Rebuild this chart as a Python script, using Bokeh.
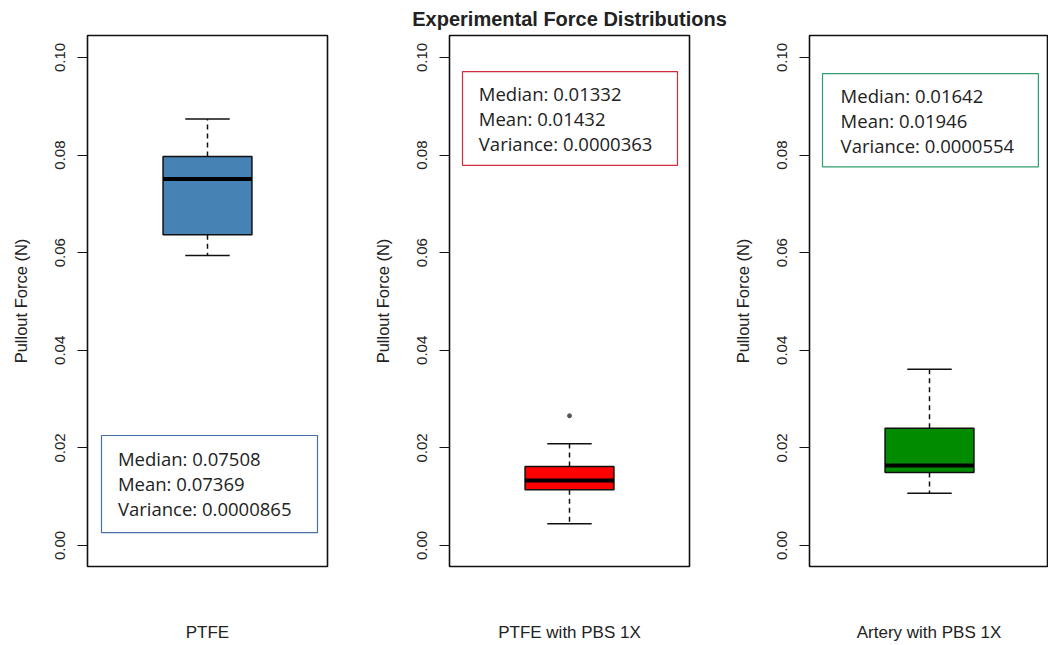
from bokeh.plotting import figure
from bokeh.layouts import row
from bokeh.models import Range1d, FixedTicker
from bokeh.core.properties import value
from bokeh.embed import file_html
from bokeh.resources import INLINE

# ---------------- data ----------------
groups = ["PTFE", "PTFE with PBS 1X", "Artery with PBS 1X"]
lower_whisker = [0.0594, 0.00445, 0.01072]
q1 = [0.0637, 0.01141, 0.01496]
median = [0.07508, 0.01332, 0.01642]
q3 = [0.0797, 0.01619, 0.02404]
upper_whisker = [0.0874, 0.02084, 0.03613]
outliers = [[], [0.02658], []]
median_txt = ["0.07508", "0.01332", "0.01642"]
mean_txt = ["0.07369", "0.01432", "0.01946"]
variance_txt = ["0.0000865", "0.0000363", "0.0000554"]
y_ticks = [0.00, 0.02, 0.04, 0.06, 0.08, 0.10]
y_tick_labels = ["0.00", "0.02", "0.04", "0.06", "0.08", "0.10"]
title_text = "Experimental Force Distributions"
y_label = "Pullout Force (N)"

# ---------------- styles / layout ----------------
box_fill = ["#4682B4", "#FF0000", "#008B00"]
note_border = ["#4A6FA5", "#D22B3C", "#2E9E6E"]
# note box (x0, x1, y0, y1), text x, first line y
note_box = [(0.523, 1.495, 0.00266, 0.02254), (0.5185, 1.486, 0.0779, 0.0971), (0.5185, 1.49, 0.0776, 0.0967)]
note_text_x = [0.597, 0.592, 0.600]
note_first_y = [0.01783, 0.0926, 0.0922]
note_step = 0.0051
BOX_W = 0.4
STAPLE_W = 0.2
X_POS = 1.0
Y_LO, Y_HI = -0.0043, 0.1045
FONT = "Liberation Sans"
NOTE_FONT = "Open Sans"

frame_w = [240, 240, 239]
border_l = [87, 120, 82]
border_r = [2, 38, 0]


def make_panel(i):
    x_end = 0.46 + 1.08 * frame_w[i] / 240.0
    p = figure(frame_width=frame_w[i], frame_height=531,
               min_border_left=border_l[i], min_border_right=border_r[i],
               min_border_top=35, min_border_bottom=79,
               x_range=Range1d(0.46, x_end), y_range=Range1d(Y_LO, Y_HI),
               output_backend="svg", toolbar_location=None,
               background_fill_color="white", border_fill_color="white",
               outline_line_color="#111111", outline_line_width=1.6)
    p.grid.visible = False

    # y axis
    ya = p.yaxis[0]
    ya.ticker = FixedTicker(ticks=y_ticks)
    ya.major_label_overrides = {t: s for t, s in zip(y_ticks, y_tick_labels)}
    ya.major_label_orientation = "vertical"
    ya.major_tick_out = 10
    ya.major_tick_in = 0
    ya.minor_tick_line_color = None
    ya.axis_line_color = "#111111"
    ya.major_tick_line_color = "#111111"
    ya.major_label_text_font = FONT
    ya.major_label_text_font_size = "15px"
    ya.major_label_text_color = "#222222"
    ya.major_label_standoff = 12
    ya.axis_label = y_label
    ya.axis_label_text_font = FONT
    ya.axis_label_text_font_size = "16.5px"
    ya.axis_label_text_font_style = "normal"
    ya.axis_label_text_color = "#222222"
    ya.axis_label_standoff = 23

    # x axis (label only)
    xa = p.xaxis[0]
    xa.ticker = FixedTicker(ticks=[])
    xa.axis_line_color = None
    xa.major_tick_line_color = None
    xa.minor_tick_line_color = None
    xa.major_tick_out = 0
    xa.major_label_text_font_size = "0px"
    xa.axis_label = groups[i]
    xa.axis_label_text_font = FONT
    xa.axis_label_text_font_size = "17px"
    xa.axis_label_text_font_style = "normal"
    xa.axis_label_text_color = "#222222"
    xa.axis_label_standoff = 56

    # whiskers (dashed) and staples
    p.segment(x0=[X_POS, X_POS], y0=[q3[i], q1[i]], x1=[X_POS, X_POS],
              y1=[upper_whisker[i], lower_whisker[i]],
              line_color="#111111", line_width=1.5, line_dash="5 4")
    p.segment(x0=[X_POS - STAPLE_W / 2] * 2, x1=[X_POS + STAPLE_W / 2] * 2,
              y0=[upper_whisker[i], lower_whisker[i]], y1=[upper_whisker[i], lower_whisker[i]],
              line_color="#111111", line_width=1.5)
    # box
    p.vbar(x=[X_POS], width=BOX_W, bottom=[q1[i]], top=[q3[i]],
           fill_color=box_fill[i], line_color="#111111", line_width=1.5)
    # median
    p.segment(x0=[X_POS - BOX_W / 2], x1=[X_POS + BOX_W / 2], y0=[median[i]], y1=[median[i]],
              line_color="black", line_width=4)
    # outliers
    if outliers[i]:
        p.scatter(x=[X_POS] * len(outliers[i]), y=outliers[i], size=4,
                  fill_color="#555555", line_color="#555555")

    # note box with statistics
    x0, x1, y0, y1 = note_box[i]
    p.quad(left=[x0], right=[x1], bottom=[y0], top=[y1], fill_color="white",
           line_color=note_border[i], line_width=1.2)
    lines = ["Median: " + median_txt[i], "Mean: " + mean_txt[i], "Variance: " + variance_txt[i]]
    ys = [note_first_y[i] - k * note_step for k in range(len(lines))]
    p.text(x=[note_text_x[i]] * len(lines), y=ys, text=lines,
           text_font=value(NOTE_FONT), text_font_size="18.5px",
           text_color="#222222", text_baseline="middle", text_align="left")
    return p


panels = [make_panel(i) for i in range(3)]
mid = panels[1]
mid.title.text = title_text
mid.title.align = "center"
mid.title.text_font = FONT
mid.title.text_font_size = "20px"
mid.title.text_font_style = "bold"
mid.title.text_color = "#222222"
mid.title.standoff = 11

layout = row(*panels, spacing=0)
open("out.html", "w").write(file_html(layout, INLINE))
